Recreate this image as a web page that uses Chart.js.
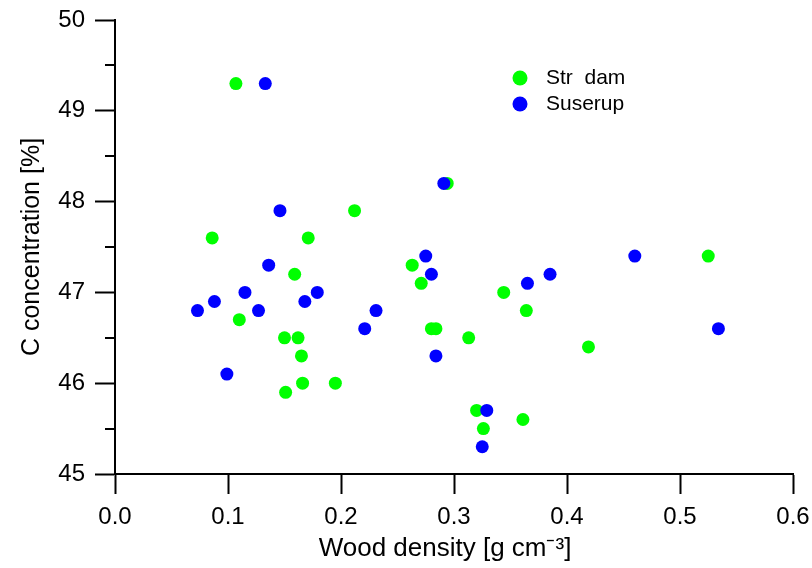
<!DOCTYPE html>
<html>
<head>
<meta charset="utf-8">
<script src="https://cdn.jsdelivr.net/npm/chart.js@4/dist/chart.umd.min.js"></script>
<style>
  html, body { margin: 0; padding: 0; background: #fff; }
  #wrap { width: 812px; height: 568px; }
</style>
</head>
<body>
<div id="wrap"><canvas id="densityChart"></canvas></div>
<script>
/* Data */
const seriesNames = ['Str  dam', 'Suserup'];
const seriesColors = ['#00ff00', '#0000ff'];

const strodamDensity = [0.107, 0.086, 0.171, 0.212, 0.159, 0.110, 0.150, 0.162, 0.165, 0.166,
  0.195, 0.151, 0.263, 0.271, 0.294, 0.280, 0.284, 0.313, 0.344, 0.364, 0.320, 0.326, 0.361, 0.419, 0.525];
const strodamCarbon = [49.3, 47.6, 47.6, 47.9, 47.2, 46.7, 46.5, 46.5, 46.3, 46.0,
  46.0, 45.9, 47.3, 47.1, 48.2, 46.6, 46.6, 46.5, 47.0, 46.8, 45.7, 45.5, 45.6, 46.4, 47.4];

const suserupDensity = [0.133, 0.146, 0.136, 0.115, 0.088, 0.073, 0.127, 0.168, 0.179, 0.099,
  0.291, 0.275, 0.280, 0.231, 0.221, 0.284, 0.329, 0.325, 0.365, 0.385, 0.460, 0.534];
const suserupCarbon = [49.3, 47.9, 47.3, 47.0, 46.9, 46.8, 46.8, 46.9, 47.0, 46.1,
  48.2, 47.4, 47.2, 46.8, 46.6, 46.3, 45.7, 45.3, 47.1, 47.2, 47.4, 46.6];

const xTickValues = [0.0, 0.1, 0.2, 0.3, 0.4, 0.5, 0.6];
const yTickValues = [45, 46, 47, 48, 49, 50];
const xTitle = 'Wood density [g cm\u207B\u00B3]';
const yTitle = 'C concentration [%]';

function toPoints(xs, ys) {
  return xs.map((x, i) => ({ x: x, y: ys[i] }));
}

Chart.defaults.font.family = '"Liberation Sans", Arial, sans-serif';
Chart.defaults.color = '#000';

// minor ticks on the y axis, x title, legend inside the plot
const extrasPlugin = {
  id: 'extras',
  afterDraw(chart) {
    const ctx = chart.ctx;
    const yScale = chart.scales.y;
    const left = chart.chartArea.left;
    ctx.save();
    ctx.strokeStyle = '#000';
    ctx.lineWidth = 2;
    for (let i = 0; i < yTickValues.length - 1; i++) {
      const py = Math.round(yScale.getPixelForValue(yTickValues[i] + 0.5));
      ctx.beginPath();
      ctx.moveTo(left - 10, py);
      ctx.lineTo(left, py);
      ctx.stroke();
    }
    // x title, sits a bit left of the axis centre like the original
    ctx.fillStyle = '#000';
    ctx.font = '26px "Liberation Sans", Arial, sans-serif';
    ctx.textAlign = 'center';
    ctx.textBaseline = 'middle';
    ctx.fillText(xTitle, 445, 549);
    // legend
    ctx.font = '21px "Liberation Sans", Arial, sans-serif';
    ctx.textAlign = 'left';
    for (let i = 0; i < seriesNames.length; i++) {
      const ly = 78 + i * 26;
      ctx.fillStyle = seriesColors[i];
      ctx.beginPath();
      ctx.arc(520, ly, 7.5, 0, Math.PI * 2);
      ctx.fill();
      ctx.fillStyle = '#000';
      ctx.fillText(seriesNames[i], 546, ly);
    }
    ctx.restore();
  }
};

const ctxDensity = document.getElementById('densityChart').getContext('2d');

const densityChart = new Chart(ctxDensity, {
  type: 'scatter',
  data: {
    datasets: [{
      label: seriesNames[0],
      data: toPoints(strodamDensity, strodamCarbon),
      backgroundColor: seriesColors[0],
      borderWidth: 0,
      pointRadius: 6.5,
      order: 1
    },
    {
      label: seriesNames[1],
      data: toPoints(suserupDensity, suserupCarbon),
      backgroundColor: seriesColors[1],
      borderWidth: 0,
      pointRadius: 6.5,
      order: 0
    }]
  },
  options: {
    responsive: true,
    maintainAspectRatio: false,
    animation: false,
    layout: {
      padding: { top: 20, right: 19, bottom: 0, left: 0 }
    },
    plugins: {
      legend: { display: false },
      tooltip: { enabled: false }
    },
    scales: {
      x: {
        type: 'linear',
        min: 0,
        max: 0.6,
        afterBuildTicks: function (scale) {
          scale.ticks = xTickValues.map(v => ({ value: v }));
        },
        afterFit: function (scale) {
          scale.height = 94;
          scale.paddingLeft = 0;
          scale.paddingRight = 0;
        },
        ticks: {
          padding: 9,
          font: { size: 24 },
          callback: function (value) {
            return value.toFixed(1);
          }
        },
        grid: {
          display: true,
          drawOnChartArea: false,
          drawTicks: true,
          tickLength: 20,
          tickColor: '#000',
          tickWidth: 2
        },
        border: { display: true, color: '#000', width: 2 },
        title: { display: false }
      },
      y: {
        type: 'linear',
        min: 45,
        max: 50,
        afterBuildTicks: function (scale) {
          scale.ticks = yTickValues.map(v => ({ value: v }));
        },
        afterFit: function (scale) {
          scale.width = 115;
          scale.paddingTop = 0;
          scale.paddingBottom = 0;
        },
        ticks: {
          padding: 10,
          font: { size: 24 }
        },
        grid: {
          display: true,
          drawOnChartArea: false,
          drawTicks: true,
          tickLength: 20,
          tickColor: '#000',
          tickWidth: 2
        },
        border: { display: true, color: '#000', width: 2 },
        title: {
          display: true,
          text: yTitle,
          font: { size: 25 },
          padding: { top: 17, bottom: 0 }
        }
      }
    }
  },
  plugins: [extrasPlugin]
});
</script>
</body>
</html>
